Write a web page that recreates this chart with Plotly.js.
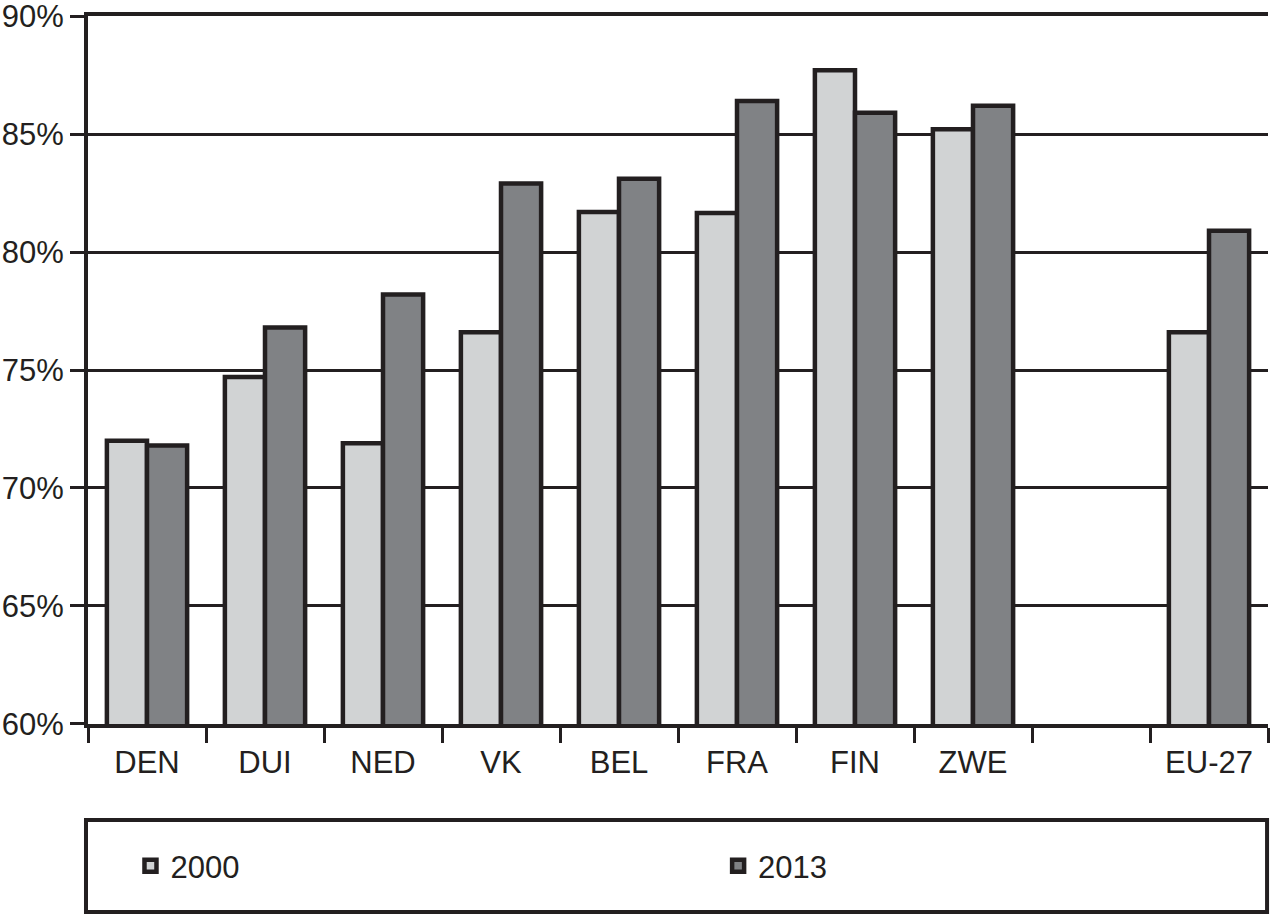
<!DOCTYPE html>
<html>
<head>
<meta charset="utf-8">
<script src="https://cdn.plot.ly/plotly-3.0.1.min.js"></script>
<style>html,body{margin:0;padding:0;background:#fff;}#chart{width:1270px;height:917px;}</style>
</head>
<body>
<div id="chart"></div>
<script>
const categories = ["DEN", "DUI", "NED", "VK", "BEL", "FRA", "FIN", "ZWE", " ", "EU-27"];
const seriesCats = ["DEN", "DUI", "NED", "VK", "BEL", "FRA", "FIN", "ZWE", "EU-27"];
const values2000 = [72.0, 74.7, 71.9, 76.6, 81.7, 81.65, 87.7, 85.2, 76.6];
const values2013 = [71.8, 76.8, 78.2, 82.9, 83.1, 86.4, 85.9, 86.2, 80.9];
const seriesNames = ["2000", "2013"];
const yTicks = [60, 65, 70, 75, 80, 85, 90];
const yTickLabels = ["60%", "65%", "70%", "75%", "80%", "85%", "90%"];

const ink = "#231f20";
const font = {family: "Liberation Sans, Arial, sans-serif", size: 31, color: ink};

const traces = [
  {type: "bar", name: seriesNames[0], x: seriesCats, y: values2000, legend: "legend",
   marker: {color: "#d1d3d4", line: {color: ink, width: 4.5}}},
  {type: "bar", name: seriesNames[1], x: seriesCats, y: values2013, legend: "legend2",
   marker: {color: "#808285", line: {color: ink, width: 4.5}}}
];

const legendBase = {orientation: "h", y: -0.2006, xanchor: "left", yanchor: "middle",
                    font: font, bgcolor: "rgba(0,0,0,0)"};

const layout = {
  width: 1270, height: 917,
  margin: {l: 88, r: 2, t: 16, b: 193},
  paper_bgcolor: "#fff", plot_bgcolor: "#fff",
  font: font,
  barmode: "group", bargap: 0.32, bargroupgap: 0,
  showlegend: true,
  legend: Object.assign({}, legendBase, {x: 0.036}),
  legend2: Object.assign({}, legendBase, {x: 0.534}),
  xaxis: {type: "category", categoryorder: "array", categoryarray: categories,
          range: [-0.5, categories.length - 0.5],
          tickson: "boundaries", ticks: "outside", ticklen: 15, tickwidth: 3, tickcolor: ink,
          ticklabelstandoff: 8,
          showline: true, linecolor: ink, linewidth: 4, mirror: true,
          showgrid: false, tickfont: font, fixedrange: true},
  yaxis: {range: [59.999, 90.001], tickmode: "array", tickvals: yTicks, ticktext: yTickLabels,
          ticks: "outside", ticklen: 14, tickwidth: 3, tickcolor: ink,
          ticklabeloverflow: "allow",
          showline: true, linecolor: ink, linewidth: 4,
          showgrid: true, gridcolor: ink, gridwidth: 3, zeroline: false,
          tickfont: font, fixedrange: true},
  shapes: [
    {type: "rect", xref: "paper", yref: "paper",
     x0: -0.0017, x1: 0.9992, y0: -0.1356, y1: -0.2655,
     line: {color: ink, width: 4}, fillcolor: "rgba(0,0,0,0)"}
  ]
};

Plotly.newPlot("chart", traces, layout, {displayModeBar: false, staticPlot: true});
</script>
</body>
</html>
